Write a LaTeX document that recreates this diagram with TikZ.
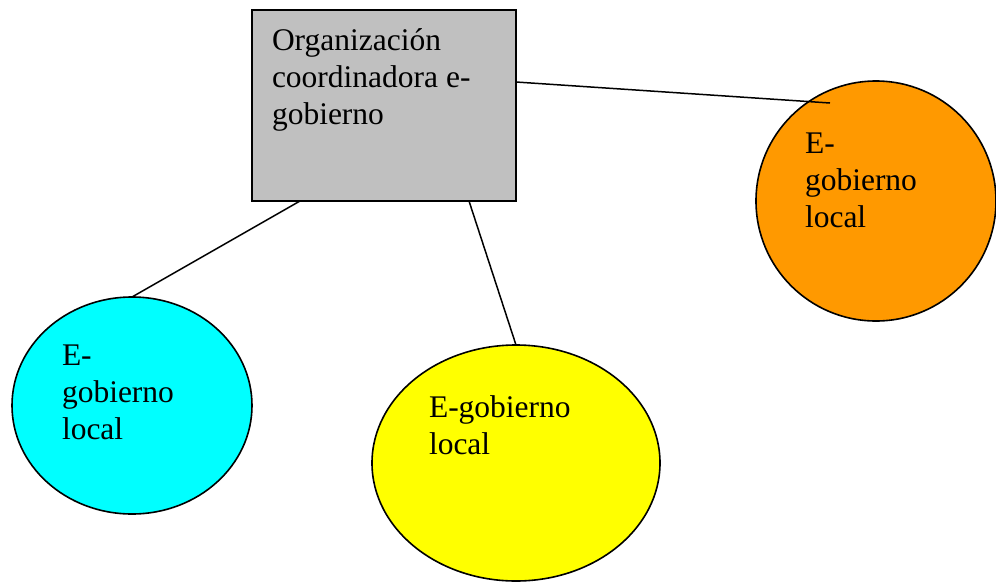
\documentclass[tikz,border=0pt]{standalone}
\usepackage{fontspec}
\setmainfont{Liberation Serif}
\usetikzlibrary{shapes.geometric}
\definecolor{boxgray}{HTML}{C0C0C0}
\definecolor{orangefill}{HTML}{FF9900}
\definecolor{cyanfill}{HTML}{00FFFF}
\definecolor{yellowfill}{HTML}{FFFF00}
\begin{document}
\begin{tikzpicture}[x=1pt,y=-1pt,
  edge/.style={draw=black,line width=1.5pt},
  box/.style={rectangle,draw=black,line width=1.6pt,fill=boxgray,inner sep=0pt,outer sep=0pt},
  oval/.style={ellipse,draw=black,line width=1.6pt,inner sep=0pt,outer sep=0pt},
  lbl/.style={inner sep=0pt,outer sep=0pt,anchor=base west,font=\fontsize{31.5}{37}\selectfont}]
\useasboundingbox (0,0) rectangle (996,582);
% shapes
\node[box,minimum width=264pt,minimum height=191pt,anchor=north west] (org) at (252,10) {};
\node[oval,fill=orangefill,minimum width=240pt,minimum height=240pt] (orange) at (876,201) {};
\node[oval,fill=cyanfill,minimum width=240pt,minimum height=217pt] (cyan) at (132,405.5) {};
\node[oval,fill=yellowfill,minimum width=288pt,minimum height=236pt] (yellow) at (516,463) {};
% connector ends
\coordinate (orgR) at (516,82);
\coordinate (orgB1) at (300,201);
\coordinate (orgB2) at (469,201);
\coordinate (orangeIn) at (830,103);
% connectors
\draw[edge] (orgR) -- (orangeIn);
\draw[edge] (orgB1) -- (cyan.north);
\draw[edge] (orgB2) -- (yellow.north);
% labels
\node[lbl] (orgtxt) at (272,50) {\begin{tabular}[t]{@{}l@{}}Organización\\coordinadora e-\\gobierno\end{tabular}};
\node[lbl] (orangetxt) at (805,153) {\begin{tabular}[t]{@{}l@{}}E-\\gobierno\\local\end{tabular}};
\node[lbl] (cyantxt) at (62,365) {\begin{tabular}[t]{@{}l@{}}E-\\gobierno\\local\end{tabular}};
\node[lbl] (yellowtxt) at (429,417) {\begin{tabular}[t]{@{}l@{}}E-gobierno\\local\end{tabular}};
\end{tikzpicture}
\end{document}
